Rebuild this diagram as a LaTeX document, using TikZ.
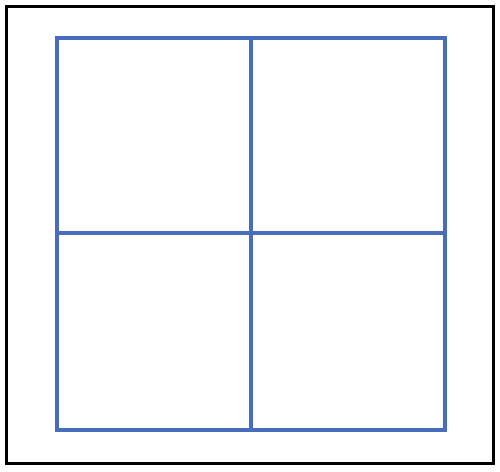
\documentclass[tikz,border=0pt]{standalone}
\usepackage{tikz}
\definecolor{gridblue}{RGB}{72,108,190}
\tikzstyle{outerframe} = [draw=black, line width=3pt]
\tikzstyle{gridline} = [draw=gridblue, line width=3.5pt, line cap=rect]
\begin{document}
\begin{tikzpicture}[x=1pt, y=-1pt]
		\useasboundingbox (0,0) rectangle (500,471);
		\fill[white] (0,0) rectangle (500,471);
		\draw[outerframe] (6,6) rectangle (493,463);
		% the four squares
		\coordinate (tl) at (57,38);
		\coordinate (br) at (445,430);
		\draw[gridline] (tl) rectangle (br);
		\draw[gridline] (251,38) -- (251,430);
		\draw[gridline] (57,233) -- (445,233);
		\end{tikzpicture}
\end{document}
